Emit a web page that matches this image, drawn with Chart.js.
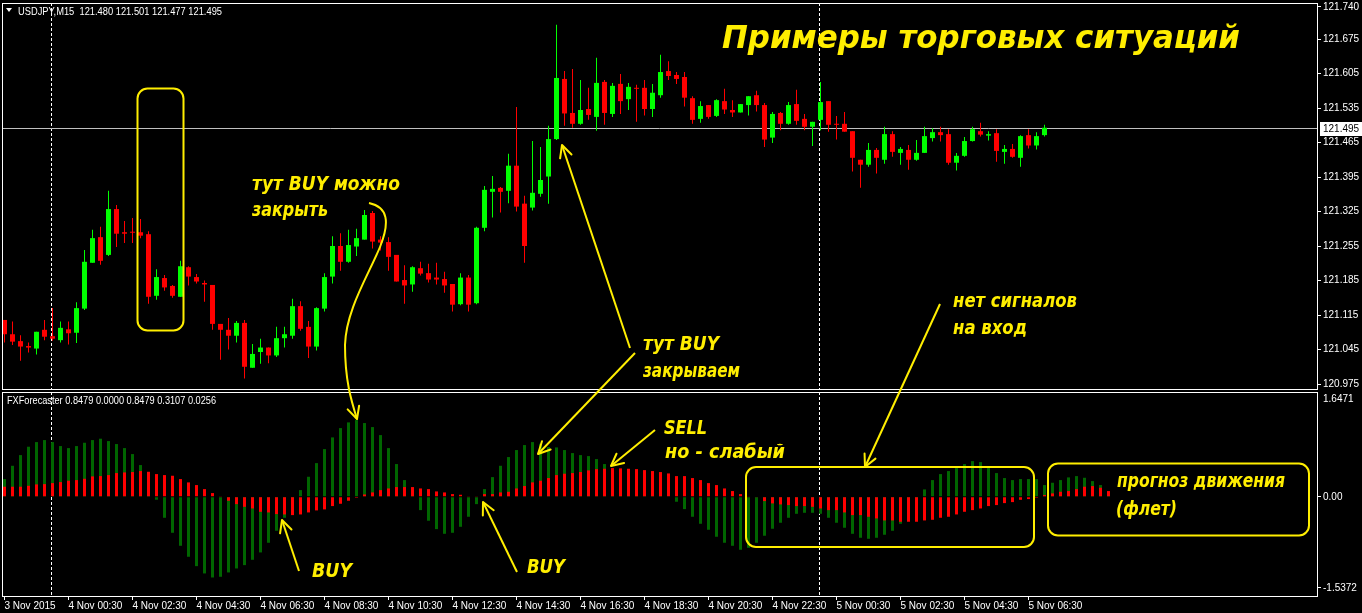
<!DOCTYPE html>
<html><head><meta charset="utf-8">
<script src="https://cdn.jsdelivr.net/npm/chart.js@4.4.0/dist/chart.umd.min.js"></script>
<style>
html,body{margin:0;padding:0;background:#000;width:1362px;height:613px;overflow:hidden}
#wrap{position:relative;width:1362px;height:613px;background:#000}
canvas{position:absolute;left:0}
#c1{top:0}
#c2{top:390px}
#ov{position:absolute;left:0;top:0;pointer-events:none}
</style></head>
<body>
<div id="wrap">
<canvas id="c1" width="1362" height="390"></canvas>
<canvas id="c2" width="1362" height="223"></canvas>
<svg id="ov" width="1362" height="613" viewBox="0 0 1362 613" xmlns="http://www.w3.org/2000/svg">
<defs>
<marker id="ah" markerUnits="userSpaceOnUse" markerWidth="30" markerHeight="30" viewBox="-15 -15 30 30" refX="0" refY="0" orient="auto" overflow="visible">
<path d="M-12,-6 L0,0 L-12,6" fill="none" stroke="#ffee00" stroke-width="2" stroke-linecap="round" stroke-linejoin="round"/>
</marker>
</defs>
<polygon points="6,8 12,8 9,12" fill="#ffffff"/>
<text x="18" y="15" fill="#ffffff" font-family="'Liberation Sans', Arial, sans-serif" font-size="11" textLength="204" lengthAdjust="spacingAndGlyphs" style="white-space:pre">USDJPY,M15  121.480 121.501 121.477 121.495</text>
<text x="7" y="404" fill="#ffffff" font-family="'Liberation Sans', Arial, sans-serif" font-size="10" textLength="209" lengthAdjust="spacingAndGlyphs">FXForecaster 0.8479 0.0000 0.8479 0.3107 0.0256</text>
<g fill="none" stroke="#ffee00" stroke-width="2">
<rect x="137.5" y="88.5" width="46" height="242" rx="10"/>
<rect x="746" y="467" width="288" height="80" rx="10"/>
<rect x="1048" y="463.5" width="261" height="72" rx="10"/>
<path d="M369,203 C388,207 390,222 380,247 C368,276 346,310 345,345 C345,380 351,400 357,419" marker-end="url(#ah)"/>
<line x1="630" y1="348" x2="562" y2="145" marker-end="url(#ah)"/>
<line x1="635" y1="353" x2="538" y2="454" marker-end="url(#ah)"/>
<line x1="655" y1="430" x2="611" y2="466" marker-end="url(#ah)"/>
<line x1="940" y1="304" x2="865" y2="467" marker-end="url(#ah)"/>
<line x1="299" y1="571" x2="282" y2="520" marker-end="url(#ah)"/>
<line x1="517" y1="572" x2="483" y2="502" marker-end="url(#ah)"/>
</g>
<g fill="#ffee00" font-family="'DejaVu Sans', sans-serif" font-weight="bold" font-style="italic" font-size="19">
<text x="722" y="48" font-size="32" textLength="518" lengthAdjust="spacingAndGlyphs">Примеры торговых ситуаций</text>
<text x="252" y="190" textLength="148" lengthAdjust="spacingAndGlyphs">тут BUY можно</text>
<text x="252" y="216" textLength="76" lengthAdjust="spacingAndGlyphs">закрыть</text>
<text x="643" y="350" textLength="76" lengthAdjust="spacingAndGlyphs">тут BUY</text>
<text x="643" y="377" textLength="97" lengthAdjust="spacingAndGlyphs">закрываем</text>
<text x="664" y="434" textLength="43" lengthAdjust="spacingAndGlyphs">SELL</text>
<text x="665" y="458" textLength="120" lengthAdjust="spacingAndGlyphs">но - слабый</text>
<text x="953" y="307" textLength="124" lengthAdjust="spacingAndGlyphs">нет сигналов</text>
<text x="953" y="334" textLength="74" lengthAdjust="spacingAndGlyphs">на вход</text>
<text x="312" y="577" textLength="40" lengthAdjust="spacingAndGlyphs">BUY</text>
<text x="527" y="573" textLength="38" lengthAdjust="spacingAndGlyphs">BUY</text>
<text x="1117" y="487" textLength="168" lengthAdjust="spacingAndGlyphs">прогноз движения</text>
<text x="1116" y="515" textLength="61" lengthAdjust="spacingAndGlyphs">(флет)</text>
</g>
</svg>
</div>
<script>
// ---- USDJPY M15 candles (bar 0 = 3 Nov 2015 22:30) ----
const candleOpen = [121.105,121.076,121.062,121.052,121.047,121.085,121.072,121.064,121.086,121.079,
121.128,121.221,121.273,121.237,121.330,121.283,121.283,121.283,121.279,121.154,
121.190,121.174,121.152,121.212,121.192,121.180,121.176,121.097,121.085,121.073,
121.099,121.008,121.040,121.049,121.033,121.068,121.073,121.133,121.091,121.051,
121.128,121.193,121.255,121.223,121.254,121.268,121.322,121.268,121.263,121.237,
121.186,121.177,121.210,121.200,121.191,121.188,121.178,121.137,121.191,121.139,
121.292,121.365,121.373,121.367,121.418,121.341,121.333,121.361,121.396,121.472,
121.594,121.525,121.503,121.533,121.517,121.588,121.523,121.584,121.553,121.576,
121.576,121.533,121.561,121.610,121.602,121.598,121.555,121.513,121.541,121.519,
121.549,121.531,121.526,121.541,121.561,121.541,121.475,121.525,121.503,121.543,
121.513,121.497,121.511,121.549,121.503,121.503,121.488,121.430,121.420,121.450,
121.430,121.482,121.444,121.450,121.430,121.444,121.474,121.486,121.482,121.424,
121.438,121.468,121.488,121.479,121.484,121.446,121.452,121.434,121.480,121.459,
121.480];
const candleHigh = [121.105,121.102,121.074,121.059,121.081,121.105,121.129,121.102,121.102,121.141,
121.247,121.288,121.294,121.367,121.338,121.306,121.312,121.310,121.285,121.208,
121.196,121.176,121.225,121.214,121.198,121.185,121.176,121.097,121.109,121.103,
121.105,121.056,121.067,121.049,121.091,121.091,121.148,121.143,121.103,121.131,
121.200,121.275,121.281,121.288,121.290,121.328,121.326,121.275,121.273,121.237,
121.216,121.214,121.223,121.219,121.221,121.203,121.178,121.200,121.196,121.294,
121.377,121.397,121.375,121.442,121.537,121.357,121.468,121.456,121.499,121.704,
121.610,121.614,121.592,121.576,121.637,121.592,121.586,121.604,121.586,121.582,
121.592,121.584,121.643,121.630,121.608,121.608,121.559,121.549,121.541,121.553,
121.574,121.551,121.543,121.559,121.570,121.545,121.527,121.527,121.547,121.572,
121.523,121.507,121.588,121.549,121.519,121.527,121.488,121.430,121.464,121.454,
121.497,121.488,121.456,121.460,121.470,121.497,121.494,121.497,121.492,121.444,
121.476,121.497,121.505,121.488,121.492,121.460,121.462,121.480,121.492,121.486,
121.501];
const candleLow = [121.059,121.054,121.022,121.039,121.035,121.064,121.063,121.059,121.055,121.058,
121.125,121.221,121.217,121.235,121.253,121.261,121.261,121.271,121.138,121.146,
121.164,121.150,121.152,121.175,121.179,121.142,121.085,121.024,121.045,121.059,
120.986,121.008,121.016,121.017,121.030,121.049,121.067,121.083,121.028,121.043,
121.122,121.179,121.205,121.221,121.235,121.268,121.250,121.246,121.205,121.183,
121.138,121.162,121.195,121.181,121.177,121.160,121.122,121.135,121.122,121.137,
121.285,121.313,121.323,121.342,121.325,121.221,121.327,121.355,121.341,121.470,
121.499,121.495,121.501,121.511,121.489,121.501,121.517,121.523,121.531,121.507,
121.520,121.517,121.556,121.592,121.584,121.538,121.503,121.505,121.513,121.517,
121.523,121.517,121.526,121.520,121.528,121.456,121.464,121.490,121.501,121.501,
121.490,121.458,121.490,121.487,121.471,121.487,121.406,121.373,121.416,121.402,
121.422,121.436,121.420,121.410,121.428,121.444,121.467,121.467,121.420,121.408,
121.436,121.467,121.477,121.469,121.426,121.422,121.434,121.416,121.453,121.451,
121.477];
const candleClose = [121.076,121.061,121.051,121.049,121.081,121.071,121.067,121.089,121.078,121.129,
121.223,121.271,121.225,121.330,121.280,121.280,121.282,121.276,121.152,121.192,
121.171,121.154,121.214,121.193,121.183,121.177,121.097,121.085,121.073,121.099,
121.010,121.036,121.049,121.033,121.068,121.076,121.133,121.087,121.051,121.129,
121.192,121.255,121.223,121.257,121.271,121.318,121.264,121.262,121.233,121.183,
121.175,121.212,121.199,121.187,121.187,121.175,121.136,121.191,121.136,121.292,
121.369,121.371,121.365,121.418,121.335,121.255,121.363,121.389,121.472,121.596,
121.524,121.503,121.531,121.521,121.586,121.525,121.580,121.549,121.578,121.574,
121.533,121.566,121.608,121.600,121.594,121.556,121.511,121.539,121.517,121.551,
121.532,121.526,121.543,121.559,121.541,121.471,121.523,121.503,121.541,121.509,
121.497,121.507,121.547,121.501,121.501,121.487,121.434,121.420,121.450,121.434,
121.482,121.446,121.452,121.430,121.444,121.478,121.486,121.480,121.424,121.438,
121.468,121.492,121.481,121.482,121.448,121.452,121.436,121.478,121.459,121.478,
121.495];

// ---- FXForecaster histogram (bars 131..138 are the forecast) ----
const fxGreen = [0.298,0.522,0.702,0.843,0.921,0.955,0.921,0.854,0.820,0.854,
0.910,0.955,0.978,0.938,0.888,0.820,0.719,0.534,0.150,-0.050,
-0.354,-0.607,-0.826,-1.011,-1.169,-1.292,-1.360,-1.348,-1.275,-1.208,
-1.152,-1.062,-0.938,-0.775,-0.573,-0.354,-0.150,0.112,0.337,0.567,
0.803,1.000,1.157,1.253,1.292,1.242,1.174,1.039,0.820,0.551,
0.281,0.050,-0.225,-0.404,-0.545,-0.624,-0.607,-0.506,-0.337,-0.124,
0.129,0.331,0.522,0.669,0.787,0.871,0.921,0.893,0.837,0.831,
0.787,0.736,0.702,0.685,0.635,0.551,0.450,0.380,0.300,0.220,
0.150,0.100,0.050,0.000,-0.084,-0.208,-0.337,-0.455,-0.556,-0.674,
-0.775,-0.826,-0.893,-0.860,-0.775,-0.657,-0.539,-0.438,-0.354,-0.287,
-0.270,-0.270,-0.287,-0.354,-0.438,-0.522,-0.624,-0.691,-0.708,-0.691,
-0.640,-0.573,-0.455,-0.350,-0.250,0.124,0.281,0.382,0.433,0.483,
0.551,0.601,0.584,0.483,0.399,0.315,0.281,0.298,0.298,0.298,
0.197,0.236,0.281,0.326,0.348,0.320,0.264,0.197,0.050];
const fxRed = [0.169,0.169,0.169,0.185,0.208,0.213,0.230,0.247,0.270,0.281,
0.303,0.343,0.348,0.365,0.399,0.410,0.416,0.433,0.421,0.382,
0.365,0.354,0.298,0.242,0.197,0.129,0.062,0.011,-0.067,-0.124,
-0.169,-0.197,-0.253,-0.264,-0.292,-0.298,-0.309,-0.298,-0.264,-0.230,
-0.213,-0.157,-0.118,-0.067,-0.017,0.039,0.073,0.112,0.140,0.163,
0.163,0.163,0.140,0.129,0.090,0.073,0.045,0.034,0.011,0.011,
0.045,0.045,0.073,0.084,0.140,0.180,0.242,0.270,0.315,0.365,
0.388,0.399,0.416,0.444,0.466,0.472,0.483,0.478,0.472,0.466,
0.449,0.433,0.416,0.393,0.348,0.348,0.315,0.281,0.230,0.197,
0.140,0.096,0.045,0.010,-0.010,-0.073,-0.112,-0.129,-0.140,-0.157,
-0.157,-0.169,-0.197,-0.225,-0.225,-0.264,-0.309,-0.309,-0.337,-0.365,
-0.399,-0.399,-0.421,-0.421,-0.421,-0.399,-0.388,-0.354,-0.337,-0.298,
-0.253,-0.225,-0.197,-0.157,-0.140,-0.107,-0.090,-0.051,-0.039,-0.017,
0.028,0.057,0.084,0.096,0.129,0.169,0.180,0.152,0.096];

// ---- axes ----
const priceTicks = [121.740,121.675,121.605,121.535,121.465,121.395,121.325,121.255,121.185,121.115,121.045,120.975];
const fxTicks = [1.6471, 0, -1.5372];
const fxTickLabels = ['1.6471','0.00','-1.5372'];
const timeTickIndex = [0,8,16,24,32,40,48,56,64,72,80,88,96,104,112,120,128];
const timeTickLabels = ['3 Nov 2015','4 Nov 00:30','4 Nov 02:30','4 Nov 04:30','4 Nov 06:30','4 Nov 08:30',
'4 Nov 10:30','4 Nov 12:30','4 Nov 14:30','4 Nov 16:30','4 Nov 18:30','4 Nov 20:30','4 Nov 22:30',
'5 Nov 00:30','5 Nov 02:30','5 Nov 04:30','5 Nov 06:30'];
const separatorIndex = [6, 102];

// ---- build ----
const GREEN = '#00ff00', RED = '#ff0000', DKGREEN = '#006600';
const candleColor = candleOpen.map((o,i)=> candleClose[i] >= o ? GREEN : RED);
const bodies = candleOpen.map((o,i)=>({x:i, y:[o, candleClose[i]]}));
const wicks = candleOpen.map((o,i)=>({x:i, y:[candleLow[i], candleHigh[i]]}));
const fxG = fxGreen.map((v,i)=>({x:i,y:v}));
const fxR = fxRed.map((v,i)=>({x:i,y:v}));
const lastClose = candleClose[candleClose.length-1];

const XMIN = -0.3125, XMAX = 164.0625;
const axisFont = {family:"'Liberation Sans', Arial, sans-serif", size:10};

const framePlugin = {
  id:'frame',
  beforeDatasetsDraw(chart, args, opts){
    const {ctx, chartArea:a, scales} = chart;
    ctx.save();
    ctx.strokeStyle = '#ffffff'; ctx.lineWidth = 1; ctx.setLineDash([3,2]);
    separatorIndex.forEach(i=>{
      const x = Math.floor(scales.x.getPixelForValue(i)) - 0.5;
      ctx.beginPath(); ctx.moveTo(x, a.top); ctx.lineTo(x, a.bottom); ctx.stroke();
    });
    ctx.setLineDash([]);
    if (opts.priceLine){
      const y = Math.round(scales.y.getPixelForValue(lastClose)) + 0.5;
      ctx.strokeStyle = '#c0c0c0';
      ctx.beginPath(); ctx.moveTo(a.left, y); ctx.lineTo(a.right, y); ctx.stroke();
    }
    ctx.restore();
  },
  afterDraw(chart, args, opts){
    const {ctx, chartArea:a, scales} = chart;
    ctx.save();
    ctx.strokeStyle = '#ffffff'; ctx.lineWidth = 1;
    ctx.strokeRect(a.left+0.5, a.top+0.5, a.right-a.left, a.bottom-a.top);
    if (opts.priceLine){
      const y = Math.round(scales.y.getPixelForValue(lastClose));
      ctx.fillStyle = '#ffffff';
      ctx.fillRect(a.right+3, y-6, chart.width-a.right-3, 14);
      ctx.fillStyle = '#000000';
      ctx.font = "10px 'Liberation Sans', Arial, sans-serif";
      ctx.textBaseline = 'middle'; ctx.textAlign = 'left';
      ctx.fillText(lastClose.toFixed(3), a.right+6, y+1);
    }
    ctx.restore();
  }
};

const common = {
  responsive:false, animation:false, devicePixelRatio:1, events:[],
  plugins:{legend:{display:false}, tooltip:{enabled:false}},
};

new Chart(document.getElementById('c1'), {
  type:'bar',
  data:{datasets:[
    {data:bodies, backgroundColor:candleColor, barThickness:5, minBarLength:1, grouped:false, borderWidth:0, inflateAmount:0},
    {data:wicks, backgroundColor:candleColor, barThickness:1, grouped:false, borderWidth:0, inflateAmount:0}
  ]},
  options:Object.assign({}, common, {
    layout:{padding:{left:2,right:0,top:3,bottom:1}},
    plugins:{legend:{display:false}, tooltip:{enabled:false}, frame:{priceLine:true}},
    scales:{
      x:{type:'linear', display:false, min:XMIN, max:XMAX, offset:false, grid:{offset:false}},
      y:{type:'linear', position:'right', min:120.9649, max:121.7481,
         afterBuildTicks:(s)=>{ s.ticks = priceTicks.map(v=>({value:v})); },
         afterFit:(s)=>{ s.width = 45; s.paddingTop = 0; s.paddingBottom = 0; },
         ticks:{color:'#ffffff', font:axisFont, padding:2, autoSkip:false, callback:(v)=>Number(v).toFixed(3)},
         grid:{drawOnChartArea:false, drawTicks:true, tickLength:4, color:'#ffffff'},
         border:{display:false}}
    }
  }),
  plugins:[framePlugin]
});

new Chart(document.getElementById('c2'), {
  type:'bar',
  data:{datasets:[
    {data:fxR, backgroundColor:RED, barThickness:3, grouped:false, borderWidth:0, inflateAmount:0},
    {data:fxG, backgroundColor:DKGREEN, barThickness:3, grouped:false, borderWidth:0, inflateAmount:0}
  ]},
  options:Object.assign({}, common, {
    layout:{padding:{left:2,right:0,top:2,bottom:0}},
    plugins:{legend:{display:false}, tooltip:{enabled:false}, frame:{priceLine:false}},
    scales:{
      x:{type:'linear', position:'bottom', min:XMIN, max:XMAX, offset:false,
         afterBuildTicks:(s)=>{ s.ticks = timeTickIndex.map(v=>({value:v})); },
         afterFit:(s)=>{ s.height = 17; s.paddingLeft = 0; s.paddingRight = 0; },
         ticks:{color:'#ffffff', font:axisFont, padding:0, align:'start', maxRotation:0, autoSkip:false,
                callback:(v,i)=>timeTickLabels[i]},
         grid:{offset:false, drawOnChartArea:false, drawTicks:true, tickLength:4, color:'#ffffff'},
         border:{display:false}},
      y:{type:'linear', position:'right', min:-1.6720, max:1.7650,
         afterBuildTicks:(s)=>{ s.ticks = fxTicks.map(v=>({value:v})); },
         afterFit:(s)=>{ s.width = 45; s.paddingTop = 0; s.paddingBottom = 0; },
         ticks:{color:'#ffffff', font:axisFont, padding:2, autoSkip:false, callback:(v,i)=>fxTickLabels[i]},
         grid:{drawOnChartArea:false, drawTicks:true, tickLength:4,
               color:(c)=> (c.tick && c.tick.value === fxTicks[0]) ? 'rgba(0,0,0,0)' : '#ffffff'},
         border:{display:false}}
    }
  }),
  plugins:[framePlugin]
});
</script>
</body></html>
